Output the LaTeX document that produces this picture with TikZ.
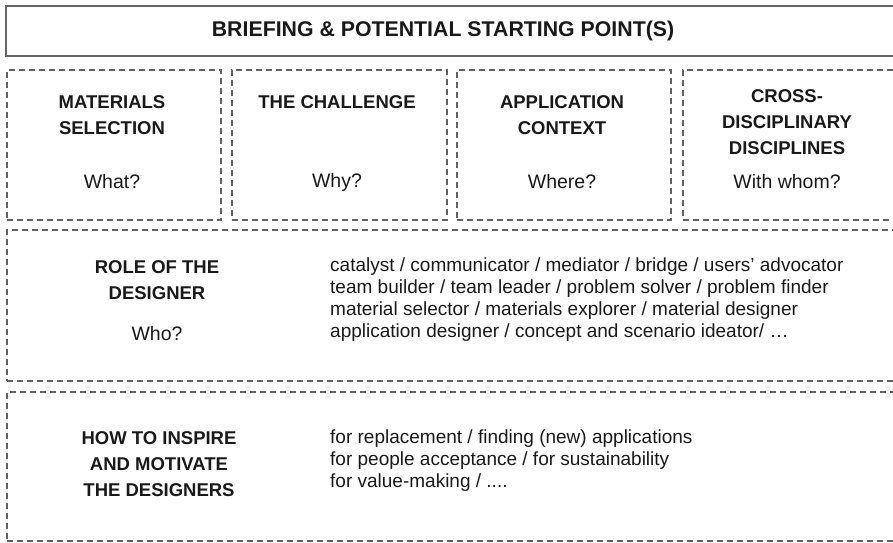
\documentclass[tikz,border=0pt]{standalone}
\usepackage{fontspec}
\setmainfont{Liberation Sans}
\usetikzlibrary{positioning}

\begin{document}
\begin{tikzpicture}[x=1pt,y=-1pt]
\tikzstyle{every node}+=[inner sep=0pt, text=black!90]
\tikzstyle{briefbox}=[draw=black!60, line width=2.2pt, anchor=north west]
\tikzstyle{dashbox}=[draw=black!62, line width=1.7pt, dash pattern=on 6pt off 4pt, anchor=north west]
\tikzstyle{headtxt}=[align=center, font=\bfseries\fontsize{18.5}{26}\selectfont]
\tikzstyle{asktxt}=[font=\fontsize{19.5}{24}\selectfont]
\tikzstyle{listtxt}=[align=left, anchor=west, font=\fontsize{19}{22}\selectfont]
\useasboundingbox (0,0) rectangle (893,542);
\clip (0,0) rectangle (893,542);
% frames
\node [briefbox, minimum width=900pt, minimum height=50pt] (brief) at (5,5) {};
\node [dashbox, minimum width=214pt, minimum height=150pt] (matsel) at (6,69) {};
\node [dashbox, minimum width=215pt, minimum height=150pt] (challenge) at (231,69) {};
\node [dashbox, minimum width=214pt, minimum height=150pt] (appctx) at (456,69) {};
\node [dashbox, minimum width=220pt, minimum height=150pt] (crossdisc) at (682,69) {};
\node [dashbox, minimum width=900pt, minimum height=151pt] (role) at (6,229) {};
\node [dashbox, minimum width=900pt, minimum height=149pt] (inspire) at (6,391) {};
% texts
\node [headtxt, font=\bfseries\fontsize{21.3}{24}\selectfont] (brieftxt) at (443,31) {BRIEFING \& POTENTIAL STARTING POINT(S)};
\node [headtxt] (matselhd) at (112,115) {MATERIALS\\SELECTION};
\node [asktxt] (matselq) at (112,182) {What?};
\node [headtxt] (challengehd) at (337,102) {THE CHALLENGE};
\node [asktxt] (challengeq) at (337,182) {Why?};
\node [headtxt] (appctxhd) at (562,115) {APPLICATION\\CONTEXT};
\node [asktxt] (appctxq) at (562,182) {Where?};
\node [headtxt] (crossdischd) at (787,122) {CROSS-\\DISCIPLINARY\\DISCIPLINES};
\node [asktxt] (crossdiscq) at (787,182) {With whom?};
\node [headtxt] (rolehd) at (157,280) {ROLE OF THE\\DESIGNER};
\node [asktxt] (roleq) at (157,334) {Who?};
\node [listtxt] (rolelist) at (330,300) {catalyst / communicator / mediator / bridge / users’ advocator\\team builder / team leader / problem solver / problem finder\\material selector / materials explorer / material designer\\application designer / concept and scenario ideator/ \dots};
\node [headtxt] (inspirehd) at (159,464) {HOW TO INSPIRE\\AND MOTIVATE\\THE DESIGNERS};
\node [listtxt] (inspirelist) at (330,461) {for replacement / finding (new) applications\\for people acceptance / for sustainability\\for value-making / ....};
\end{tikzpicture}
\end{document}
